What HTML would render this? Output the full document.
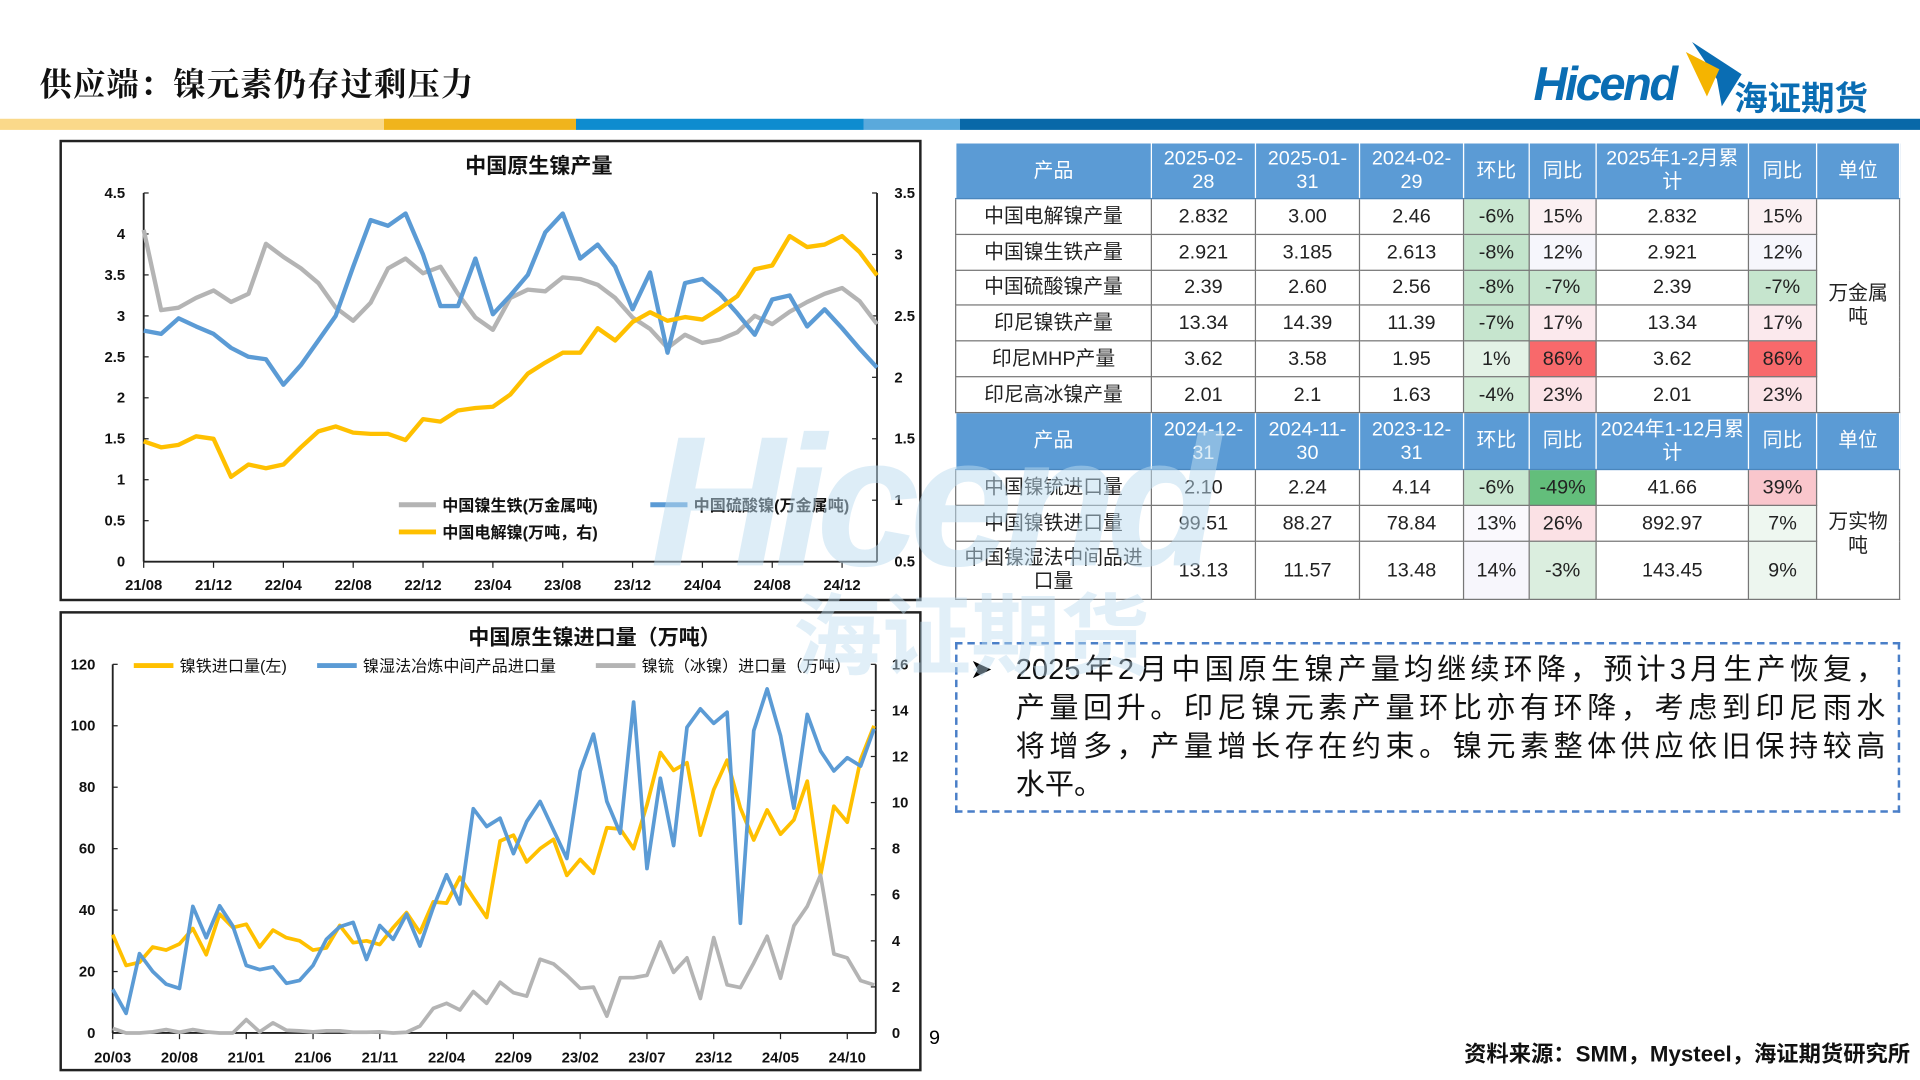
<!DOCTYPE html>
<html><head><meta charset="utf-8">
<style>
html,body{margin:0;padding:0;background:#fff;overflow:hidden;width:1920px;height:1080px}
#page{position:absolute;left:0;top:0;width:1550px;height:873px;transform:scale(1.23871,1.23711);transform-origin:0 0;font-family:"Liberation Sans","Noto Sans CJK SC",sans-serif;}
.abs{position:absolute}
table{border-collapse:collapse;table-layout:fixed}
td{border:1px solid #777;text-align:center;font-size:16px;color:#222;padding:0;line-height:19px}
td.h{background:#5b9bd5;color:#fff;border-color:#fff #fff #4a86bd #fff}
.ln{text-align:justify;text-align-last:justify;white-space:nowrap;height:31px}
</style></head><body>
<div id="page">
<div class="abs" style="left:32px;top:48px;font-size:26px;font-weight:bold;font-family:'Liberation Serif','Noto Serif CJK SC',serif;color:#111;letter-spacing:1px">供应端：镍元素仍存过剩压力</div>
<div class="abs" style="left:1238px;top:30px;width:300px;height:62px">
<svg width="300" height="62"><polygon points="128,4 168,30 152,56 148,34" fill="#0a6db3"/><polygon points="123,12 150,26 140,48" fill="#f5b400"/></svg>
<div class="abs" style="left:0;top:18px;font-size:38px;font-weight:bold;font-style:italic;color:#0a6db3;letter-spacing:-2px">Hicend</div>
<div class="abs" style="left:162px;top:28px;font-size:27px;font-weight:bold;color:#0a6db3">海证期货</div>
</div>
<div class="abs" style="left:0;top:96px;width:1550px;height:9px;background:linear-gradient(to right,#fad98a 0 310px,#f0b41c 310px 465px,#0e8ccf 465px 697px,#5aa9dc 697px 775px,#0868a8 775px)"></div>

<div class="abs" style="left:48px;top:113px;width:692px;height:369px;border:2px solid #222"></div>
<div class="abs" style="left:48px;top:494px;width:692px;height:368px;border:2px solid #222"></div>

<svg id="charts" class="abs" style="left:0;top:0" width="1550" height="873"></svg>

<table class="abs" style="left:771px;top:115px;width:762px">
<colgroup><col style="width:158px"><col style="width:84px"><col style="width:84px"><col style="width:84px"><col style="width:53px"><col style="width:54px"><col style="width:123px"><col style="width:55px"><col style="width:67px"></colgroup>
<tr style="height:45px"><td class="h">产品</td><td class="h">2025-02-<br>28</td><td class="h">2025-01-<br>31</td><td class="h">2024-02-<br>29</td><td class="h">环比</td><td class="h">同比</td><td class="h">2025年1-2月累<br>计</td><td class="h">同比</td><td class="h">单位</td></tr>
<tr style="height:29px"><td>中国电解镍产量</td><td>2.832</td><td>3.00</td><td>2.46</td><td style="background:#c9e7d0">-6%</td><td style="background:#fbf0f2">15%</td><td>2.832</td><td style="background:#fbf0f2">15%</td><td rowspan="6">万金属<br>吨</td></tr>
<tr style="height:29px"><td>中国镍生铁产量</td><td>2.921</td><td>3.185</td><td>2.613</td><td style="background:#c3e4cc">-8%</td><td style="background:#f6f6fc">12%</td><td>2.921</td><td style="background:#f6f6fc">12%</td></tr>
<tr style="height:28px"><td>中国硫酸镍产量</td><td>2.39</td><td>2.60</td><td>2.56</td><td style="background:#c3e4cc">-8%</td><td style="background:#c6e5ce">-7%</td><td>2.39</td><td style="background:#c6e5ce">-7%</td></tr>
<tr style="height:29px"><td>印尼镍铁产量</td><td>13.34</td><td>14.39</td><td>11.39</td><td style="background:#c6e5ce">-7%</td><td style="background:#fbe9ed">17%</td><td>13.34</td><td style="background:#fbe9ed">17%</td></tr>
<tr style="height:29px"><td>印尼MHP产量</td><td>3.62</td><td>3.58</td><td>1.95</td><td style="background:#e3f2e6">1%</td><td style="background:#f8696b">86%</td><td>3.62</td><td style="background:#f8696b">86%</td></tr>
<tr style="height:29px"><td>印尼高冰镍产量</td><td>2.01</td><td>2.1</td><td>1.63</td><td style="background:#d3ecd8">-4%</td><td style="background:#fbe3e7">23%</td><td>2.01</td><td style="background:#fbe3e7">23%</td></tr>
<tr style="height:46px"><td class="h">产品</td><td class="h">2024-12-<br>31</td><td class="h">2024-11-<br>30</td><td class="h">2023-12-<br>31</td><td class="h">环比</td><td class="h">同比</td><td class="h">2024年1-12月累<br>计</td><td class="h">同比</td><td class="h">单位</td></tr>
<tr style="height:29px"><td>中国镍锍进口量</td><td>2.10</td><td>2.24</td><td>4.14</td><td style="background:#c9e7d0">-6%</td><td style="background:#63be7b">-49%</td><td>41.66</td><td style="background:#f9c6cc">39%</td><td rowspan="3">万实物<br>吨</td></tr>
<tr style="height:29px"><td>中国镍铁进口量</td><td>99.51</td><td>88.27</td><td>78.84</td><td style="background:#faf9fd">13%</td><td style="background:#fbe1e5">26%</td><td>892.97</td><td style="background:#eef7f0">7%</td></tr>
<tr style="height:47px"><td>中国镍湿法中间品进<br>口量</td><td>13.13</td><td>11.57</td><td>13.48</td><td style="background:#f7f6fc">14%</td><td style="background:#dbeedf">-3%</td><td>143.45</td><td style="background:#edf6ef">9%</td></tr>
</table>

<div class="abs" style="left:771px;top:519px;width:763px;height:138px;border:2px dashed #4a7fc8;box-sizing:border-box"></div>
<div class="abs" style="left:783px;top:528px;font-size:22px">➤</div>
<div class="abs" style="left:820px;top:526px;width:702px;font-size:23.5px;line-height:31px;color:#111">
<div class="ln">2025年2月中国原生镍产量均继续环降，预计3月生产恢复，</div>
<div class="ln">产量回升。印尼镍元素产量环比亦有环降，考虑到印尼雨水</div>
<div class="ln">将增多，产量增长存在约束。镍元素整体供应依旧保持较高</div>
<div style="height:31px">水平。</div>
</div>

<div class="abs" style="left:750px;top:831px;font-size:16px">9</div>
<div class="abs" style="right:8px;top:838px;font-size:18px;font-weight:bold;color:#111">资料来源：SMM，Mysteel，海证期货研究所</div>

<div class="abs" style="left:525px;top:330px;font-size:150px;font-weight:bold;font-style:italic;color:#bcdcf0;opacity:0.5;letter-spacing:-8px;pointer-events:none;line-height:150px">Hicend</div>
<div class="abs" style="left:640px;top:476px;font-size:72px;font-weight:bold;color:#bcdcf0;opacity:0.45;pointer-events:none;line-height:80px">海证期货</div>
</div>

<script>
// Chart 1 data (2021/08 - 2025/02)
const c1Count = 43;
const c1TickLabels = ["21/08","21/12","22/04","22/08","22/12","23/04","23/08","23/12","24/04","24/08","24/12"];
const c1LeftTicks = [0,0.5,1,1.5,2,2.5,3,3.5,4,4.5];
const c1RightTicks = [0.5,1,1.5,2,2.5,3,3.5];
const npi = [4.05,3.07,3.1,3.22,3.31,3.17,3.27,3.88,3.72,3.58,3.4,3.1,2.94,3.16,3.58,3.7,3.52,3.6,3.27,2.98,2.83,3.22,3.32,3.3,3.47,3.45,3.38,3.22,2.98,2.84,2.61,2.77,2.67,2.71,2.8,3.0,2.9,3.05,3.17,3.27,3.34,3.18,2.9];
const sulfate = [2.82,2.78,2.97,2.87,2.78,2.61,2.5,2.47,2.16,2.4,2.7,3.0,3.6,4.17,4.1,4.25,3.75,3.12,3.12,3.7,3.02,3.25,3.5,4.02,4.25,3.7,3.87,3.6,3.08,3.53,2.55,3.4,3.45,3.27,3.03,2.77,3.2,3.25,2.87,3.08,2.85,2.6,2.37];
const cathode = [1.48,1.43,1.45,1.52,1.5,1.19,1.29,1.26,1.29,1.43,1.56,1.6,1.55,1.54,1.54,1.49,1.66,1.64,1.73,1.75,1.76,1.86,2.03,2.12,2.2,2.2,2.4,2.3,2.45,2.53,2.46,2.49,2.47,2.56,2.66,2.88,2.91,3.15,3.06,3.08,3.15,3.02,2.83];
// Chart 2 data (2020/03 - 2024/12)
const c2Count = 58;
const c2TickLabels = ["20/03","20/08","21/01","21/06","21/11","22/04","22/09","23/02","23/07","23/12","24/05","24/10"];
const c2LeftTicks = [0,20,40,60,80,100,120];
const c2RightTicks = [0,2,4,6,8,10,12,14,16];
const feniImport = [32,22,23,28,27,29,34,25.5,38.7,34.3,35.4,28,33.5,31,30,27,27.7,35,29.4,30,28.8,34.3,39.2,32.7,42.7,42.3,50.7,44,37.6,62.5,64.4,55.7,60,63,51.3,56.5,52,66.8,66.4,60,74.3,91.3,85.5,88,64.4,79.2,88.8,73.2,62.8,72.6,64.7,69.4,82,51.3,73.8,68.6,89,100];
const mhpImport = [14.2,6.4,25.8,20,15.9,14.5,41.2,31,41.4,34.8,22,20.6,21.5,16.2,17.1,22,30.5,34.6,36,23.9,35,30.5,38.7,28.3,40.9,51.5,42,73,67.2,69.9,58.4,68.8,75.4,66.1,56.8,85.3,97.3,75.4,65,107.7,53.5,82.9,61,99.5,105.5,100.8,104.4,35.7,98.4,112,96.8,73.2,103.7,91.8,85.3,89.6,86.9,99];
const matteImport = [0.2,0,0,0.05,0.15,0.03,0.15,0.05,0,0,0.58,0.05,0.44,0.12,0.09,0.05,0.09,0.09,0.03,0.03,0.05,0,0.03,0.3,1.07,1.29,1.0,1.8,1.29,2.2,1.75,1.6,3.2,3.0,2.5,1.94,1.99,0.73,2.4,2.4,2.5,3.95,2.63,3.26,1.5,4.14,2.09,1.97,3.04,4.2,2.38,4.65,5.5,6.85,3.43,3.26,2.27,2.09];

const NS="http://www.w3.org/2000/svg";
const svg=document.getElementById('charts');
function el(tag,attrs,parent){const e=document.createElementNS(NS,tag);for(const k in attrs)e.setAttribute(k,attrs[k]);(parent||svg).appendChild(e);return e;}
function txt(s,x,y,anchor,size,weight,parent){const t=el('text',{x:x,y:y,'text-anchor':anchor,'font-size':size,'font-weight':weight||'normal','font-family':'"Liberation Sans","Noto Sans CJK SC",sans-serif',fill:'#111'},parent);t.textContent=s;return t;}

// ----- Chart 1 -----
const g1=el('g',{});


const X1=i=>116+i*(592/42);
const YL1=v=>454-(v/4.5)*298;
const YR1=v=>454-((v-0.5)/3)*298;
let t1=txt('中国原生镍产量',435,140,'middle',17,'bold',g1);


el('line',{x1:116,y1:156,x2:116,y2:454,stroke:'#222','stroke-width':1.5},g1);
el('line',{x1:708,y1:156,x2:708,y2:454,stroke:'#222','stroke-width':1.5},g1);
el('line',{x1:116,y1:454,x2:708,y2:454,stroke:'#222','stroke-width':1.5},g1);
c1LeftTicks.forEach(v=>{el('line',{x1:116,y1:YL1(v),x2:120,y2:YL1(v),stroke:'#222'},g1);const t=txt(String(v),101,YL1(v)+4,'end',12,'bold',g1);});
c1RightTicks.forEach(v=>{el('line',{x1:704,y1:YR1(v),x2:708,y2:YR1(v),stroke:'#222'},g1);const t=txt(String(v),722,YR1(v)+4,'start',12,'bold',g1);});
c1TickLabels.forEach((s,k)=>{const x=X1(k*4);el('line',{x1:x,y1:454,x2:x,y2:459,stroke:'#222'},g1);const t=txt(s,x,477,'middle',12,'bold',g1);});
function series(data,X,Y,color,w,g,name){const p=el('polyline',{points:data.map((v,i)=>X(i).toFixed(1)+','+Y(v).toFixed(1)).join(' '),fill:'none',stroke:color,'stroke-width':w,'stroke-linejoin':'round'},g);}
series(npi,X1,YL1,'#b4b4b4',3.5,g1,'npi-line');
series(sulfate,X1,YL1,'#5b9bd5',3.5,g1,'nickel-sulfate-line');
series(cathode,X1,YR1,'#ffc000',3.5,g1,'cathode-nickel-line');
function legend(x,y,color,label,g,size,weight,name,len){const lg=el('g',{},g);el('line',{x1:x,y1:y,x2:x+len,y2:y,stroke:color,'stroke-width':4},lg);txt(label,x+len+5,y+5,'start',size,weight,lg);}
legend(322,408,'#b4b4b4','中国镍生铁(万金属吨)',g1,13,'bold','legend-npi',30);
legend(525,408,'#5b9bd5','中国硫酸镍(万金属吨)',g1,13,'bold','legend-sulfate',30);
legend(322,430,'#ffc000','中国电解镍(万吨，右)',g1,13,'bold','legend-cathode',30);

// ----- Chart 2 -----
const g2=el('g',{});


const X2=i=>91+i*(593/55);
const YL2=v=>835-(v/120)*298;
const YR2=v=>835-(v/16)*298;
let t2=txt('中国原生镍进口量（万吨）',480,521,'middle',17,'bold',g2);


el('line',{x1:91,y1:537,x2:91,y2:835,stroke:'#222','stroke-width':1.5},g2);
el('line',{x1:707,y1:537,x2:707,y2:835,stroke:'#222','stroke-width':1.5},g2);
el('line',{x1:91,y1:835,x2:707,y2:835,stroke:'#222','stroke-width':1.5},g2);
c2LeftTicks.forEach(v=>{el('line',{x1:91,y1:YL2(v),x2:95,y2:YL2(v),stroke:'#222'},g2);const t=txt(String(v),77,YL2(v)+4,'end',12,'bold',g2);});
c2RightTicks.forEach(v=>{el('line',{x1:703,y1:YR2(v),x2:707,y2:YR2(v),stroke:'#222'},g2);const t=txt(String(v),720,YR2(v)+4,'start',12,'bold',g2);});
c2TickLabels.forEach((s,k)=>{const x=X2(k*5);el('line',{x1:x,y1:835,x2:x,y2:840,stroke:'#222'},g2);const t=txt(s,x,859,'middle',12,'bold',g2);});
series(feniImport,X2,YL2,'#ffc000',3,g2,'feni-import-line');
series(mhpImport,X2,YL2,'#5b9bd5',3,g2,'mhp-import-line');
series(matteImport,X2,YR2,'#b4b4b4',3,g2,'matte-import-line');
legend(108,538,'#ffc000','镍铁进口量(左)',g2,13,'normal','legend-feni',32);
legend(256,538,'#5b9bd5','镍湿法冶炼中间产品进口量',g2,13,'normal','legend-mhp',32);
legend(481,538,'#b4b4b4','镍锍（冰镍）进口量（万吨）',g2,13,'normal','legend-matte',32);
</script>
</body></html>
